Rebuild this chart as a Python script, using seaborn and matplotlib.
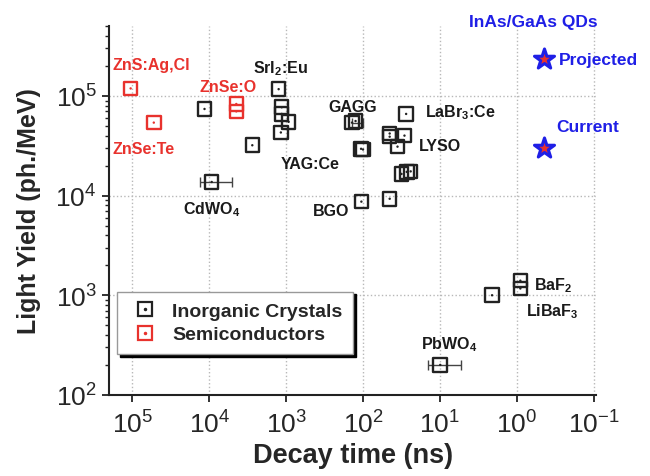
import numpy as np
import pandas as pd
import matplotlib
matplotlib.use("Agg")
import matplotlib.pyplot as plt
import seaborn as sns
from matplotlib.lines import Line2D
from matplotlib.ticker import FixedLocator, NullLocator

# -----------------------------
# 1. Data
# -----------------------------
crystal_decay = [11500, 2750, 9270, 1250, 1140, 1140, 927, 1170, 139, 125,
                 106, 100, 27.5, 45, 45, 35.6, 28.9, 31.6, 27, 24,
                 105, 45, 2.1, 0.9, 0.9, 9.9]
crystal_yield = [74000, 32000, 13700, 117000, 77000, 66000, 55000, 43000, 54000, 56000,
                 29500, 29000, 66000, 42000, 39000, 31000, 40000, 16500, 17300, 17500,
                 8700, 9300, 1000, 1400, 1170, 200]

semi_decay = [105000, 52500, 4440, 4440]
semi_yield = [119000, 54000, 83000, 70000]

qd_decay = [0.45, 0.45]
qd_yield = [237000, 30000]

# horizontal error bars (CdWO4, PbWO4, GAGG)
err_decay = [9270, 9.9, 139]
err_yield = [13700, 200, 54000]
err_low = [4170, 4.5, 38]
err_high = [4030, 4.6, 0]

x_decades = [1e5, 1e4, 1e3, 1e2, 1e1, 1e0, 1e-1]
y_decades = [1e2, 1e3, 1e4, 1e5]

crystal_labels = [
    (r"SrI$_2$:Eu", 2720, 1.94e5),
    ("GAGG", 281, 7.9e4),
    (r"LaBr$_3$:Ce", 15.4, 6.9e4),
    ("LYSO", 18.5, 3.2e4),
    ("YAG:Ce", 1180, 2.08e4),
    (r"CdWO$_4$", 2.21e4, 7360),
    ("BGO", 453, 7030),
    (r"BaF$_2$", 0.593, 1280),
    (r"LiBaF$_3$", 0.753, 703),
    (r"PbWO$_4$", 17.4, 329),
]
semi_labels = [
    ("ZnS:Ag,Cl", 1.79e5, 2.07e5),
    ("ZnSe:O", 1.33e4, 1.23e5),
    ("ZnSe:Te", 1.79e5, 3.0e4),
]
qd_labels = [
    ("InAs/GaAs QDs", 4.14, 5.59e5),
    ("Projected", 0.28, 2.33e5),
    ("Current", 0.307, 4.98e4),
]

df = pd.DataFrame({
    "decay": crystal_decay + semi_decay,
    "yield": crystal_yield + semi_yield,
    "kind": ["Inorganic Crystals"] * len(crystal_decay) + ["Semiconductors"] * len(semi_decay),
})

# -----------------------------
# 2. Basic setup
# -----------------------------
sns.set_theme(style="white")
plt.rcParams["font.family"] = ["Liberation Sans", "DejaVu Sans"]
plt.rcParams["mathtext.fontset"] = "custom"
plt.rcParams["mathtext.rm"] = "Liberation Sans"
plt.rcParams["mathtext.bf"] = "Liberation Sans:bold"
plt.rcParams["mathtext.default"] = "regular"

RED = "#e8322d"
BLUE = "#1f1fe6"
INK = "#222222"

fig = plt.figure(figsize=(6.5, 4.77), dpi=100)
ax = fig.add_axes([0.168, 0.170, 0.749, 0.773])

# -----------------------------
# 3. Scatter
# -----------------------------
ax.errorbar(err_decay, err_yield, xerr=[err_low, err_high], fmt="none",
            ecolor="#444444", elinewidth=1.0, capsize=3.5, capthick=1.0, zorder=2)

pal = {"Inorganic Crystals": INK, "Semiconductors": RED}
sns.scatterplot(data=df, x="decay", y="yield", hue="kind", palette=pal,
                marker="s", s=95, linewidth=1.7, legend=False, ax=ax, zorder=3)
squares = ax.collections[-1]
squares.set_edgecolors(squares.get_facecolors())
squares.set_facecolors("none")
sns.scatterplot(data=df, x="decay", y="yield", hue="kind", palette=pal,
                marker="o", s=3, linewidth=0, legend=False, ax=ax, zorder=4)

ax.scatter(qd_decay, qd_yield, marker="*", s=230, facecolor=RED,
           edgecolor=BLUE, linewidth=2.2, zorder=5)

# -----------------------------
# 4. Labels
# -----------------------------
for txt, x, y in crystal_labels:
    ax.text(x, y, txt, fontsize=11.5, fontweight="bold", color="#1a1a1a",
            ha="left", va="center")
for txt, x, y in semi_labels:
    ax.text(x, y, txt, fontsize=11.5, fontweight="bold", color=RED,
            ha="left", va="center")
for txt, x, y in qd_labels:
    ax.text(x, y, txt, fontsize=12.5, fontweight="bold", color=BLUE,
            ha="left", va="center", clip_on=False)

# -----------------------------
# 5. Axes
# -----------------------------
ax.set_xscale("log")
ax.set_yscale("log")
ax.set_xlim(10 ** 5.3, 10 ** -1.03)
ax.set_ylim(100, 10 ** 5.7)
ax.xaxis.set_major_locator(FixedLocator(x_decades))
ax.xaxis.set_minor_locator(NullLocator())
ax.yaxis.set_major_locator(FixedLocator(y_decades))
ax.yaxis.set_minor_locator(FixedLocator(
    [d * k for d in y_decades for k in range(2, 10) if d * k < 10 ** 5.7]))

for side in ["top", "right"]:
    ax.spines[side].set_visible(False)
for side in ["left", "bottom"]:
    ax.spines[side].set_color(INK)
    ax.spines[side].set_linewidth(1.5)

ax.tick_params(axis="both", which="major", direction="out", length=5, width=1.3,
               color=INK, labelsize=19, bottom=True, left=True)
ax.tick_params(axis="x", which="major", pad=6)
ax.tick_params(axis="y", which="major", pad=4)
ax.tick_params(axis="y", which="minor", direction="out", length=3, width=1.0,
               color=INK, left=True)
ax.grid(True, which="major", linestyle=":", color="#b8b8b8", linewidth=1.0)

ax.set_xlabel("Decay time (ns)", fontsize=19.5, fontweight="bold", labelpad=3)
ax.set_ylabel("Light Yield (ph./MeV)", fontsize=18, fontweight="bold", labelpad=10)

# -----------------------------
# 6. Legend
# -----------------------------
h_crys = (Line2D([], [], marker="s", ls="none", ms=10, mfc="none", mec=INK, mew=1.6),
          Line2D([], [], marker="o", ls="none", ms=1.5, color=INK))
h_semi = (Line2D([], [], marker="s", ls="none", ms=10, mfc="none", mec=RED, mew=1.6),
          Line2D([], [], marker="o", ls="none", ms=1.5, color=RED))
leg = ax.legend([h_crys, h_semi], ["Inorganic Crystals", "Semiconductors"],
                loc="upper left", bbox_to_anchor=(0.016, 0.28),
                prop={"size": 14, "weight": "bold"}, frameon=True, fancybox=False,
                edgecolor="#999999", framealpha=1, shadow={"color": "black", "alpha": 1},
                handlelength=1.8, handletextpad=0.5, borderpad=0.55, labelspacing=0.3,
                borderaxespad=0)
leg.get_frame().set_linewidth(1.0)

plt.savefig("out.png", dpi=100)
